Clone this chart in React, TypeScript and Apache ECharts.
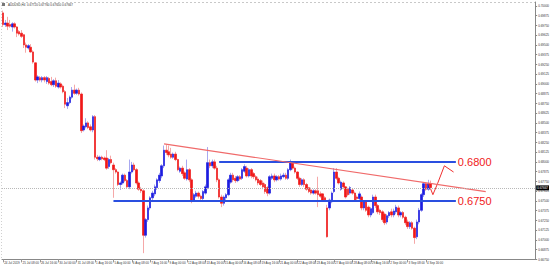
import React, { useEffect, useRef } from "react";
import * as echarts from "echarts";

// H4 bars: [open, close, low, high] in pips (price * 10000)
const candles: number[][] = [
  [6991,6976,6973,6994],[6976,6978,6973,6982],[6978,6974,6969,6986],[6976,6974,6972,6982],
  [6973,6977,6967,6979],[6977,6973,6971,6979],[6973,6965,6960,6974],[6967,6964,6962,6969],
  [6965,6961,6959,6969],[6963,6950,6946,6964],[6950,6947,6940,6953],[6946,6949,6944,6951],
  [6947,6941,6940,6951],[6941,6928,6926,6943],[6927,6905,6903,6928],[6905,6909,6901,6911],
  [6908,6905,6903,6910],[6905,6908,6902,6910],[6908,6905,6902,6910],[6903,6908,6900,6910],
  [6907,6901,6899,6909],[6903,6899,6897,6909],[6899,6904,6896,6906],[6904,6897,6895,6908],
  [6896,6901,6894,6905],[6900,6896,6894,6902],[6897,6890,6888,6899],[6890,6874,6869,6892],
  [6872,6876,6868,6882],[6876,6883,6874,6885],[6883,6892,6881,6896],[6892,6888,6886,6899],
  [6888,6892,6886,6894],[6892,6887,6885,6895],[6887,6840,6837,6889],[6841,6846,6839,6848],
  [6845,6850,6843,6856],[6850,6844,6842,6852],[6845,6841,6839,6848],[6841,6858,6838,6860],
  [6858,6806,6803,6860],[6806,6804,6801,6809],[6803,6806,6801,6808],[6806,6804,6802,6808],
  [6805,6803,6801,6807],[6805,6792,6790,6815],[6794,6803,6791,6805],[6803,6799,6797,6808],
  [6796,6790,6754,6799],[6790,6787,6785,6792],[6787,6771,6769,6788],[6771,6773,6764,6775],
  [6773,6783,6771,6785],[6783,6776,6774,6785],[6776,6768,6766,6778],[6768,6787,6765,6803],
  [6787,6796,6785,6800],[6796,6790,6788,6799],[6790,6773,6771,6792],[6773,6765,6763,6775],
  [6765,6763,6760,6768],[6763,6706,6683,6765],[6706,6726,6703,6728],[6726,6741,6723,6744],
  [6741,6754,6738,6756],[6754,6760,6751,6763],[6759,6768,6756,6771],[6767,6777,6764,6779],
  [6776,6783,6773,6786],[6782,6795,6779,6797],[6795,6815,6792,6821],[6815,6812,6809,6822],
  [6813,6809,6806,6821],[6810,6806,6804,6818],[6806,6810,6804,6812],[6810,6803,6801,6813],
  [6803,6790,6788,6804],[6788,6792,6786,6794],[6792,6785,6782,6795],[6786,6779,6777,6788],
  [6778,6790,6776,6803],[6790,6777,6774,6792],[6777,6751,6747,6779],[6751,6758,6749,6760],
  [6756,6760,6754,6763],[6760,6756,6753,6762],[6756,6753,6750,6758],[6753,6762,6751,6764],
  [6760,6768,6758,6771],[6767,6799,6765,6819],[6799,6795,6792,6803],[6795,6800,6792,6803],
  [6800,6792,6790,6803],[6792,6777,6774,6795],[6777,6755,6753,6779],[6755,6747,6742,6758],
  [6747,6755,6744,6757],[6754,6758,6751,6760],[6758,6777,6756,6779],[6774,6783,6772,6786],
  [6783,6777,6774,6786],[6779,6776,6773,6782],[6776,6781,6774,6783],[6781,6778,6776,6783],
  [6779,6790,6777,6792],[6788,6794,6786,6797],[6792,6782,6780,6795],[6782,6790,6780,6792],
  [6790,6782,6779,6792],[6785,6781,6778,6787],[6781,6777,6775,6783],[6778,6773,6770,6781],
  [6776,6771,6769,6778],[6773,6768,6765,6776],[6771,6762,6759,6773],[6767,6760,6756,6769],
  [6760,6781,6758,6783],[6779,6782,6777,6785],[6782,6777,6774,6785],[6777,6781,6775,6783],
  [6781,6778,6776,6783],[6778,6782,6776,6785],[6781,6783,6779,6786],[6783,6779,6777,6786],
  [6779,6790,6777,6792],[6790,6800,6788,6803],[6799,6792,6790,6801],[6792,6787,6785,6794],
  [6787,6779,6777,6788],[6779,6771,6768,6781],[6771,6777,6769,6779],[6777,6771,6768,6779],
  [6771,6765,6763,6773],[6767,6762,6760,6768],[6764,6760,6758,6767],[6760,6763,6758,6765],
  [6763,6760,6758,6765],[6763,6758,6742,6781],[6759,6756,6754,6762],[6759,6751,6749,6760],
  [6754,6751,6749,6756],[6741,6704,6703,6745],[6741,6751,6738,6753],[6749,6760,6747,6762],
  [6762,6787,6760,6792],[6787,6779,6777,6792],[6779,6773,6771,6781],[6765,6774,6763,6776],
  [6773,6768,6765,6775],[6768,6755,6753,6769],[6765,6758,6756,6767],[6760,6767,6758,6769],
  [6764,6760,6758,6766],[6760,6751,6749,6762],[6755,6753,6751,6757],[6753,6759,6751,6762],
  [6755,6741,6738,6757],[6741,6749,6738,6751],[6749,6738,6736,6751],[6742,6732,6729,6744],
  [6732,6740,6729,6742],[6735,6755,6733,6758],[6755,6744,6741,6758],[6744,6736,6733,6746],
  [6738,6735,6732,6740],[6736,6726,6723,6738],[6733,6722,6719,6735],[6723,6731,6720,6733],
  [6731,6735,6728,6737],[6736,6732,6729,6740],[6732,6737,6729,6740],[6736,6742,6733,6745],
  [6741,6732,6729,6744],[6732,6735,6729,6737],[6735,6729,6727,6737],[6729,6722,6719,6731],
  [6723,6717,6714,6726],[6717,6722,6714,6724],[6722,6715,6713,6724],[6715,6703,6695,6717],
  [6704,6723,6701,6726],[6723,6738,6720,6741],[6738,6758,6736,6760],[6758,6772,6755,6774],
  [6772,6765,6763,6774],[6765,6772,6763,6777],[6772,6767,6765,6776],
];

const tradingDays = [
  "24 Jul","25 Jul","26 Jul","29 Jul","30 Jul","31 Jul","1 Aug","2 Aug","5 Aug","6 Aug",
  "7 Aug","8 Aug","9 Aug","12 Aug","13 Aug","14 Aug","15 Aug","16 Aug","19 Aug","20 Aug",
  "21 Aug","22 Aug","23 Aug","26 Aug","27 Aug","28 Aug","29 Aug","30 Aug","2 Sep","3 Sep",
  "4 Sep","5 Sep",
];
const barHours = ["00:00","04:00","08:00","12:00","16:00","20:00"];
const totalSlots = 232;

const bidPrice = 0.67667;
const titleText = "AUDUSD,H4  0.67720 0.67760 0.67650 0.67667";
const resistance = 0.68;
const support = 0.675;
const resistanceRange = [94, 197];
const supportRange = [48, 197];
const trendStart = [70, 0.6823];
const trendEnd = [210, 0.6762];
const arrowPath = [[185, 0.6773], [187, 0.6758], [189, 0.6772], [192, 0.6795], [196, 0.6787]];
const yMin = 0.6675;
const yMax = 0.7005;
const yStep = 0.00125;

export default function App() {
  const ref = useRef<HTMLDivElement>(null);
  useEffect(() => {
    document.body.style.margin = "0";
    if (!ref.current) return;
    const chart = echarts.init(ref.current, undefined, { renderer: "svg" });

    const categories: string[] = [];
    for (let i = 0; i < totalSlots; i++) {
      if (i >= candles.length) categories.push("");
      else if (i === 0) categories.push("24 Jul 2019");
      else categories.push(`${tradingDays[Math.floor(i / 6)]} ${barHours[i % 6]}`);
    }
    const full = candles.map((c) => c.map((v) => v / 10000));
    const bodies = candles.map((c) => {
      const o = c[0] / 10000, cl = c[1] / 10000;
      return [o, cl, Math.min(o, cl), Math.max(o, cl)];
    });
    const font = "Liberation Sans, Arial, sans-serif";
    const showIdx = (idx: number, val: string) => idx % 8 === 0 && val !== "";

    chart.setOption({
      animation: false,
      backgroundColor: "#ffffff",
      grid: { left: 2, top: 2, width: 536, height: 257.4, show: false },
      xAxis: {
        type: "category",
        data: categories,
        boundaryGap: true,
        axisLine: { show: true, lineStyle: { color: "#888", width: 1 } },
        axisTick: { show: true, interval: showIdx, length: 3, alignWithLabel: true, lineStyle: { color: "#999" } },
        axisLabel: {
          interval: showIdx, fontSize: 3, color: "#333", align: "left", margin: 1.5, fontFamily: font,
          padding: [0, 0, 0, 1],
        },
        splitLine: { show: false },
      },
      yAxis: {
        type: "value",
        position: "right",
        min: yMin,
        max: yMax,
        interval: yStep,
        axisLine: { show: true, lineStyle: { color: "#888", width: 1 } },
        axisTick: { show: true, length: 2, lineStyle: { color: "#888" } },
        axisLabel: {
          fontSize: 3, color: "#333", margin: 3, fontFamily: font, showMaxLabel: false,
          formatter: (v: number) => v.toFixed(5),
        },
        splitLine: { show: false },
      },
      series: [
        {
          type: "candlestick",
          data: full,
          barWidth: 2,
          itemStyle: {
            color: "rgba(0,0,0,0)", color0: "rgba(0,0,0,0)",
            borderColor: "#a8a8f0", borderColor0: "#f5a8a8", borderWidth: 1,
          },
          silent: true,
        },
        {
          type: "candlestick",
          data: bodies,
          barWidth: 2,
          itemStyle: {
            color: "#1c1ce0", color0: "#f01818",
            borderColor: "#1c1ce0", borderColor0: "#f01818", borderWidth: 0.5,
          },
          markLine: {
            symbol: "none",
            silent: true,
            precision: 5,
            data: [
              [
                {
                  coord: [resistanceRange[0], resistance],
                  lineStyle: { color: "#2a4fe0", width: 2, type: "solid" },
                  label: {
                    show: true, position: "end", distance: 2, formatter: resistance.toFixed(4),
                    color: "#f02020", fontSize: 11, fontFamily: font,
                  },
                },
                { coord: [resistanceRange[1], resistance] },
              ],
              [
                {
                  coord: [supportRange[0], support],
                  lineStyle: { color: "#2a4fe0", width: 2, type: "solid" },
                  label: {
                    show: true, position: "end", distance: 2, formatter: support.toFixed(4),
                    color: "#f02020", fontSize: 11, fontFamily: font,
                  },
                },
                { coord: [supportRange[1], support] },
              ],
              [
                {
                  coord: trendStart,
                  lineStyle: { color: "#f06a6a", width: 1.2, type: "solid" },
                  label: { show: false },
                },
                { coord: trendEnd },
              ],
            ],
          },
        },
        {
          type: "line",
          data: arrowPath,
          symbol: "none",
          silent: true,
          lineStyle: { color: "#f03030", width: 1 },
          markLine: {
            symbol: "none",
            silent: true,
            precision: 5,
            data: [
              {
                yAxis: bidPrice,
                lineStyle: { color: "#b8b8b8", type: "dotted", width: 1 },
                label: {
                  show: true, position: "end", distance: 1, formatter: bidPrice.toFixed(5),
                  backgroundColor: "#000", color: "#fff", fontSize: 3, padding: [1, 1], fontFamily: font,
                },
              },
            ],
          },
        },
      ],
      graphic: [
        { type: "line", shape: { x1: 2, y1: 2.5, x2: 538, y2: 2.5 }, style: { stroke: "#c8c8c8", lineWidth: 1, lineDash: [2, 2] } },
        { type: "line", shape: { x1: 1.5, y1: 2, x2: 1.5, y2: 259 }, style: { stroke: "#d0d0d0", lineWidth: 1, lineDash: [1, 2] } },
        { type: "rect", shape: { x: 2, y: 3, width: 3, height: 3 }, style: { fill: "#777" } },
        {
          type: "text", x: 8, y: 3,
          style: { text: titleText, fontSize: 3, fill: "#333", fontFamily: font },
        },
      ],
    });
    return () => chart.dispose();
  }, []);
  return <div ref={ref} style={{ width: 552, height: 266 }} />;
}
